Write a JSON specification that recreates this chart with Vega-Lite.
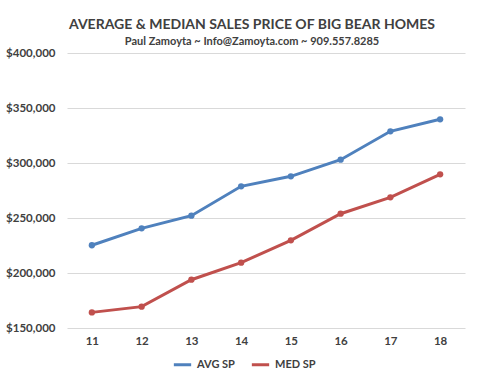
{
  "$schema": "https://vega.github.io/schema/vega-lite/v6.json",
  "width": 398,
  "height": 275,
  "autosize": "none",
  "padding": {"left": 67, "top": 53, "right": 15, "bottom": 57},
  "background": "white",
  "title": {
    "text": "AVERAGE & MEDIAN SALES PRICE OF BIG BEAR HOMES",
    "subtitle": "Paul Zamoyta ~ Info@Zamoyta.com ~ 909.557.8285",
    "anchor": "middle",
    "dx": -14,
    "offset": 0,
    "font": "Lato",
    "fontSize": 14,
    "fontWeight": "bold",
    "color": "#404040",
    "subtitleFont": "Lato",
    "subtitleFontSize": 11,
    "subtitleFontWeight": "bold",
    "subtitleColor": "#404040",
    "subtitlePadding": 4
  },
  "data": {
    "values": [
      {"year": "11", "series": "AVG SP", "price": 225200},
      {"year": "12", "series": "AVG SP", "price": 240600},
      {"year": "13", "series": "AVG SP", "price": 252100},
      {"year": "14", "series": "AVG SP", "price": 278800},
      {"year": "15", "series": "AVG SP", "price": 287900},
      {"year": "16", "series": "AVG SP", "price": 303000},
      {"year": "17", "series": "AVG SP", "price": 328800},
      {"year": "18", "series": "AVG SP", "price": 339700},
      {"year": "11", "series": "MED SP", "price": 164200},
      {"year": "12", "series": "MED SP", "price": 169400},
      {"year": "13", "series": "MED SP", "price": 193900},
      {"year": "14", "series": "MED SP", "price": 209400},
      {"year": "15", "series": "MED SP", "price": 229700},
      {"year": "16", "series": "MED SP", "price": 253900},
      {"year": "17", "series": "MED SP", "price": 268800},
      {"year": "18", "series": "MED SP", "price": 289700}
    ]
  },
  "mark": {"type": "line", "strokeWidth": 3, "point": {"filled": true, "size": 40}},
  "encoding": {
    "x": {
      "field": "year",
      "type": "ordinal",
      "scale": {"type": "point", "padding": 0.5},
      "axis": {
        "title": null,
        "labelAngle": 0,
        "ticks": false,
        "domain": false,
        "grid": false,
        "labelPadding": 7,
        "labelFont": "Lato",
        "labelFontSize": 11.5,
        "labelFontWeight": "bold",
        "labelColor": "#404040"
      }
    },
    "y": {
      "field": "price",
      "type": "quantitative",
      "scale": {"domain": [150000, 400000], "nice": false, "zero": false},
      "axis": {
        "title": null,
        "values": [150000, 200000, 250000, 300000, 350000, 400000],
        "format": "$,.0f",
        "ticks": false,
        "domain": false,
        "gridColor": "#d9d9d9",
        "labelPadding": 12,
        "labelFont": "Lato",
        "labelFontSize": 11.5,
        "labelFontWeight": "bold",
        "labelColor": "#404040"
      }
    },
    "color": {
      "field": "series",
      "type": "nominal",
      "scale": {"domain": ["AVG SP", "MED SP"], "range": ["#4F81BD", "#C0504D"]},
      "legend": {
        "title": null,
        "orient": "none",
        "direction": "horizontal",
        "legendX": 105,
        "legendY": 301,
        "symbolType": "stroke",
        "symbolSize": 300,
        "symbolStrokeWidth": 3,
        "columnPadding": 10,
        "labelFont": "Lato",
        "labelFontSize": 11,
        "labelFontWeight": "bold",
        "labelColor": "#404040"
      }
    }
  },
  "config": {"view": {"stroke": null}}
}
